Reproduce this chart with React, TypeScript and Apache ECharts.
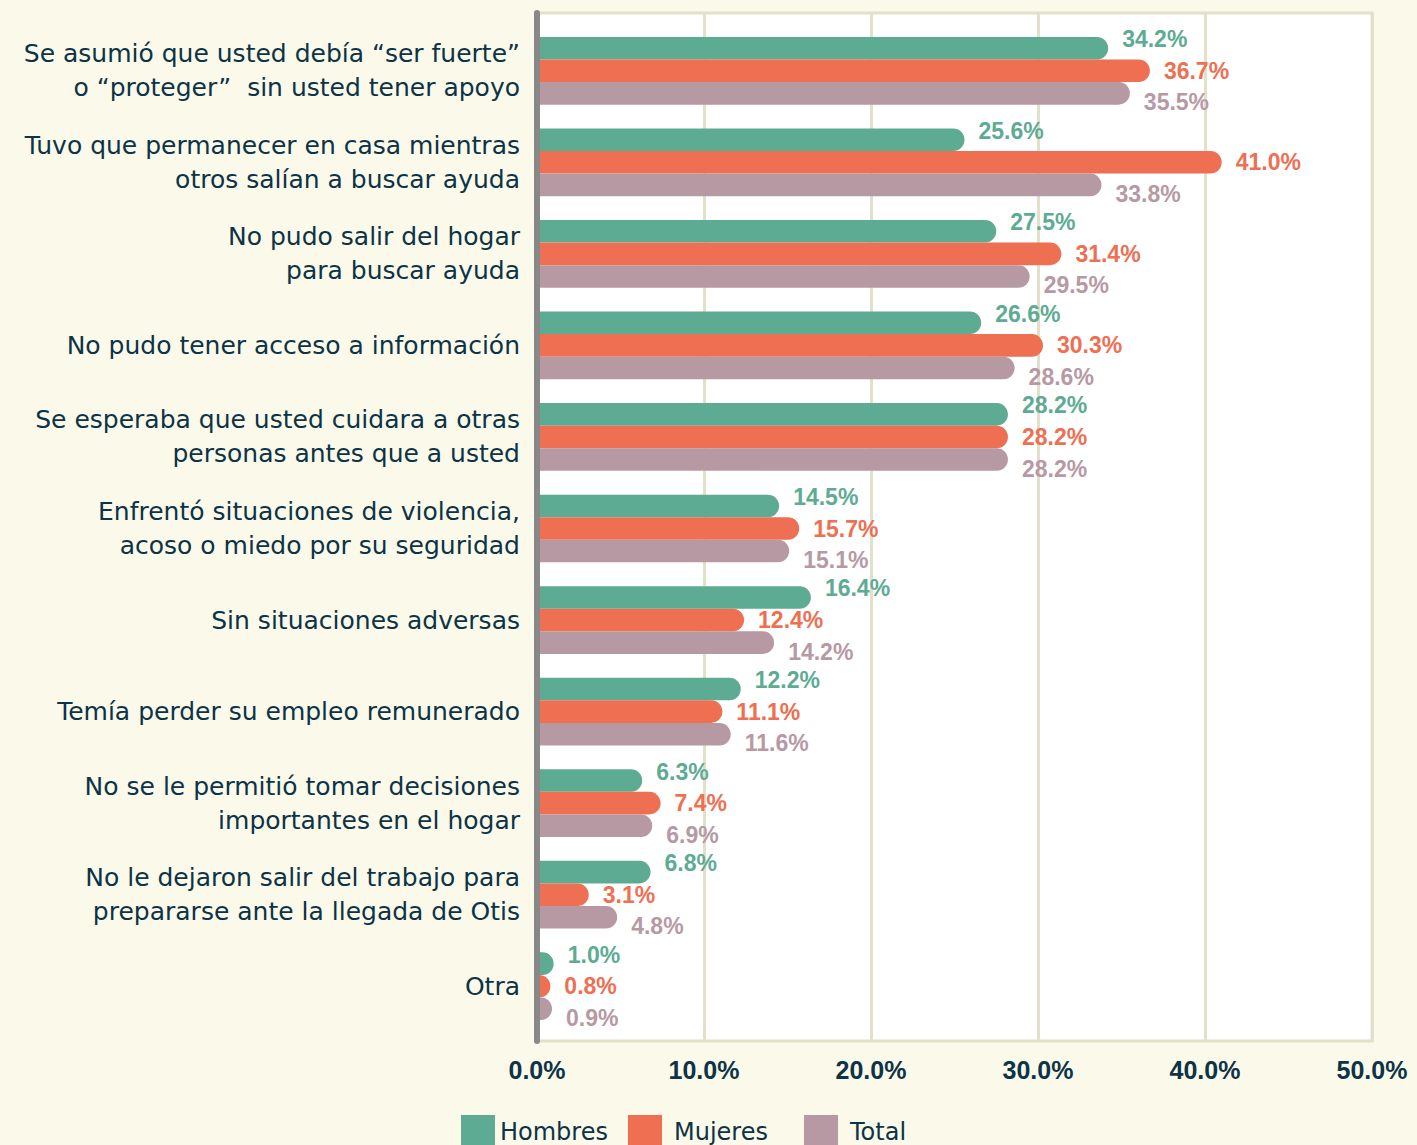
import React, { useEffect, useRef } from "react";
import * as echarts from "echarts";

const categories = [
  "Se asumió que usted debía “ser fuerte”\no “proteger”  sin usted tener apoyo",
  "Tuvo que permanecer en casa mientras\notros salían a buscar ayuda",
  "No pudo salir del hogar\npara buscar ayuda",
  "No pudo tener acceso a información",
  "Se esperaba que usted cuidara a otras\npersonas antes que a usted",
  "Enfrentó situaciones de violencia,\nacoso o miedo por su seguridad",
  "Sin situaciones adversas",
  "Temía perder su empleo remunerado",
  "No se le permitió tomar decisiones\nimportantes en el hogar",
  "No le dejaron salir del trabajo para\nprepararse ante la llegada de Otis",
  "Otra",
];

const hombres = [34.2, 25.6, 27.5, 26.6, 28.2, 14.5, 16.4, 12.2, 6.3, 6.8, 1.0];
const mujeres = [36.7, 41.0, 31.4, 30.3, 28.2, 15.7, 12.4, 11.1, 7.4, 3.1, 0.8];
const total = [35.5, 33.8, 29.5, 28.6, 28.2, 15.1, 14.2, 11.6, 6.9, 4.8, 0.9];

const seriesNames = ["Hombres", "Mujeres", "Total"];
const colors = ["#5eab93", "#ef6f53", "#b799a4"];
const labelOffsets = [-9, 0, 9];
const legendLefts = [456, 623, 799];
const legendTextPad = [0, 7, 7];

const FONT = "'Liberation Sans', Arial, sans-serif";
const WIDE = "'DejaVu Sans', sans-serif";
const TEXT = "#0c3346";

export default function App() {
  const ref = useRef<HTMLDivElement>(null);
  useEffect(() => {
    if (!ref.current) return;
    const chart = echarts.init(ref.current, null, { renderer: "svg" });
    const data = [hombres, mujeres, total];
    chart.setOption({
      animation: false,
      backgroundColor: "#fbf9ea",
      textStyle: { fontFamily: FONT },
      grid: [
        {
          left: 537,
          right: 45,
          top: 13,
          bottom: 104,
          show: true,
          backgroundColor: "#ffffff",
          borderColor: "#e2e0c8",
          borderWidth: 3,
        },
        { left: 537, right: 45, top: 25, bottom: 113 },
      ],
      legend: seriesNames.map((name, i) => ({
        top: 1110,
        left: legendLefts[i],
        itemWidth: 34,
        itemHeight: 34,
        icon: "rect",
        data: [name],
        textStyle: {
          fontSize: 24,
          color: TEXT,
          fontFamily: WIDE,
          padding: [0, 0, 0, legendTextPad[i]],
        },
      })),
      xAxis: [
        {
          type: "value",
          gridIndex: 0,
          min: 0,
          max: 50,
          interval: 10,
          axisLine: { show: false },
          axisTick: { show: false },
          splitLine: { lineStyle: { color: "#e2e0c8", width: 3 } },
          axisLabel: {
            formatter: (v: number) => v.toFixed(1) + "%",
            fontSize: 25,
            fontWeight: "bold",
            color: TEXT,
            margin: 16,
            fontFamily: FONT,
          },
        },
        {
          type: "value",
          gridIndex: 1,
          min: 0,
          max: 50,
          interval: 10,
          show: false,
        },
      ],
      yAxis: [
        {
          type: "value",
          gridIndex: 0,
          min: 0,
          max: 1,
          z: 5,
          axisLine: {
            show: true,
            onZero: false,
            lineStyle: { color: "#888888", width: 6 },
          },
          axisTick: { show: false },
          axisLabel: { show: false },
          splitLine: { show: false },
        },
        {
          type: "category",
          gridIndex: 1,
          inverse: true,
          data: categories,
          axisLine: { show: false },
          axisTick: { show: false },
          axisLabel: {
            fontSize: 25,
            color: TEXT,
            margin: 17,
            lineHeight: 34,
            align: "right",
            fontFamily: WIDE,
          },
        },
      ],
      series: seriesNames.map((name, i) => ({
        name,
        type: "bar",
        xAxisIndex: 1,
        yAxisIndex: 1,
        data: data[i],
        barGap: "0%",
        barCategoryGap: "26%",
        itemStyle: { color: colors[i], borderRadius: [0, 12, 12, 0] },
        label: {
          show: true,
          position: "right",
          distance: 14,
          offset: [0, labelOffsets[i]],
          formatter: (p: any) => p.value.toFixed(1) + "%",
          color: colors[i],
          fontSize: 23,
          fontWeight: "bold",
          fontFamily: FONT,
        },
      })),
    });
    return () => chart.dispose();
  }, []);
  return (
    <div
      ref={ref}
      style={{ position: "fixed", left: 0, top: 0, width: 1417, height: 1145 }}
    />
  );
}
